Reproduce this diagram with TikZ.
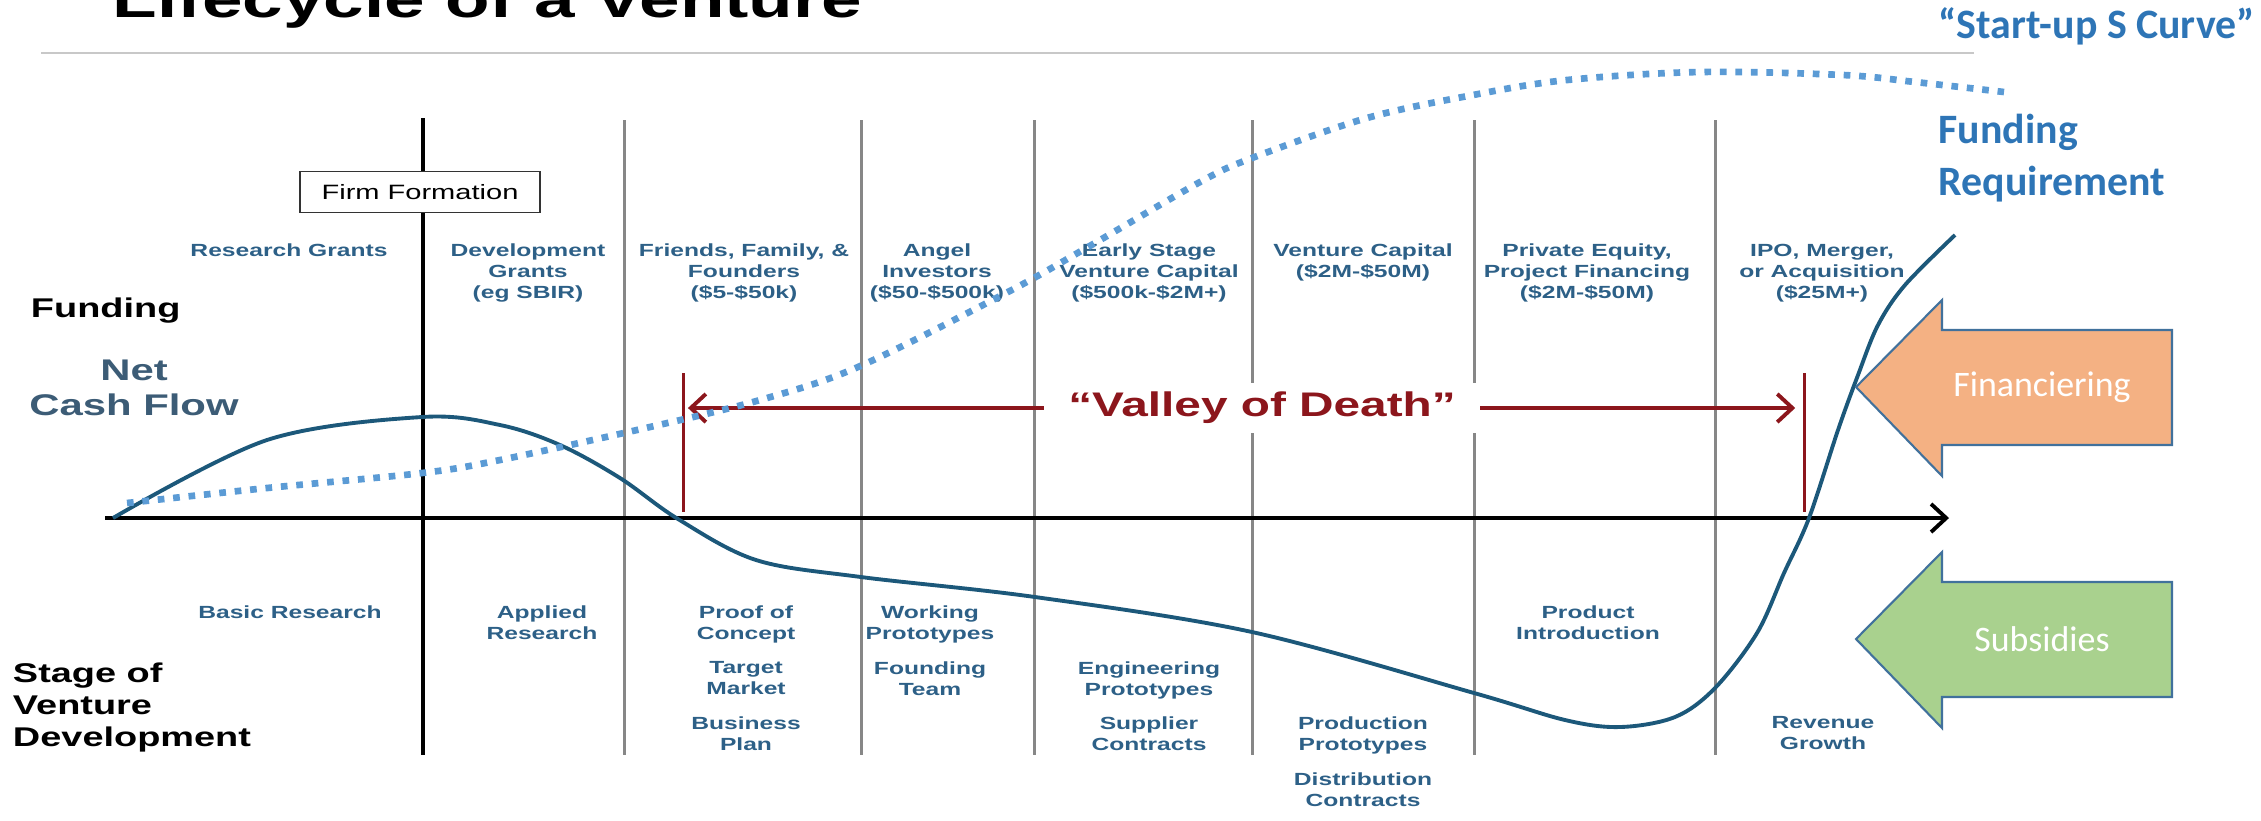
\documentclass[tikz,border=0pt]{standalone}
\usepackage{fontspec}
\setmainfont{Liberation Sans}
\newfontfamily\calibri{Carlito}
\usetikzlibrary{arrows.meta}

\definecolor{labelblue}{RGB}{45,96,135}
\definecolor{cashblue}{RGB}{28,88,122}
\definecolor{netgrey}{RGB}{60,92,118}
\definecolor{valleyred}{RGB}{140,22,28}
\definecolor{gridgrey}{RGB}{135,135,135}
\definecolor{rulegrey}{RGB}{200,200,200}
\definecolor{sblue}{RGB}{91,155,213}
\definecolor{textblue}{RGB}{46,117,182}
\definecolor{finorange}{RGB}{244,177,131}
\definecolor{subgreen}{RGB}{169,209,142}
\definecolor{arrowrim}{RGB}{65,113,156}

\tikzset{
  widetext/.style={xscale=1.4,inner sep=0pt},
  stagelabel/.style={widetext,text=labelblue,font=\bfseries\fontsize{5}{6}\selectfont,align=center,anchor=north},
  sidelabel/.style={widetext,font=\bfseries\fontsize{7.7}{9.1}\selectfont,align=left,anchor=north west},
  divider/.style={gridgrey,line width=.85pt},
  barb/.tip={Straight Barb[length=4.3pt,width=8pt]},
  blockarrow/.style={draw=arrowrim,line width=.6pt,line join=miter},
  overlaytext/.style={font=\calibri\fontsize{10.2}{12}\selectfont,text=white}
}

\begin{document}
\begin{tikzpicture}[x=.01cm,y=-.01cm]
\useasboundingbox (0,0) rectangle (2261,820);
\path (105,518) coordinate (ax0)
      (1949,518) coordinate (ax1)
      (683,408) coordinate (vl)
      (1804,408) coordinate (vr);

% title, rule and stage dividers
\node[widetext,anchor=base west,font=\bfseries\fontsize{14.8}{17}\selectfont] (title) at (112,17) {Lifecycle of a Venture};
\draw[rulegrey,line width=.7pt] (41,53) -- (1974,53);
\foreach \x in {624,861,1034,1252,1474,1715}
  \draw[divider] (\x,120) -- (\x,755);
\draw[line width=.9pt] (423,118) -- (423,755);
\node[widetext,draw=black!80,fill=white,line width=.5pt,minimum width=1.71cm,minimum height=.41cm,font=\fontsize{5.9}{7}\selectfont] (firm) at (420,192) {Firm Formation};

% axis
\draw[line width=1.1pt,-barb] (ax0) -- (ax1);

% valley of death
\draw[valleyred,line width=.85pt] (683,373) -- (683,512) (1804,373) -- (1804,512);
\draw[valleyred,line width=1.1pt,barb-barb,shorten <=1.4pt,shorten >=2.5pt] (vl) -- (vr);
\node[widetext,fill=white,minimum width=3.11cm,minimum height=.5cm,text=valleyred,font=\bfseries\fontsize{9.7}{11}\selectfont] (valley) at (1262,408) {“Valley of Death”};

% side labels
\node[sidelabel] (funding) at (30,297) {Funding};
\node[sidelabel] (stage) at (12,662) {Stage of\\Venture\\Development};
\node[widetext,anchor=north,align=center,text=netgrey,font=\bfseries\fontsize{8.5}{10}\selectfont] (netcash) at (134,359) {Net\\Cash Flow};

% funding sources
\node[stagelabel] (grants) at (289,243) {Research Grants};
\node[stagelabel] (devgrants) at (528,243) {Development\\Grants\\(eg SBIR)};
\node[stagelabel] (friends) at (744,243) {Friends, Family, \&\\Founders\\(\$5-\$50k)};
\node[stagelabel] (angels) at (937,243) {Angel\\Investors\\(\$50-\$500k)};
\node[stagelabel] (earlyvc) at (1149,243) {Early Stage\\Venture Capital\\(\$500k-\$2M+)};
\node[stagelabel] (vc) at (1363,243) {Venture Capital\\(\$2M-\$50M)};
\node[stagelabel] (pe) at (1587,243) {Private Equity,\\Project Financing\\(\$2M-\$50M)};
\node[stagelabel] (ipo) at (1822,243) {IPO, Merger,\\or Acquisition\\(\$25M+)};

% development stages
\node[stagelabel] (basic) at (290,605) {Basic Research};
\node[stagelabel] (applied) at (542,605) {Applied\\Research};
\node[stagelabel] (proof) at (746,605) {Proof of\\Concept};
\node[stagelabel] (target) at (746,661) {Target\\Market};
\node[stagelabel] (plan) at (746,716) {Business\\Plan};
\node[stagelabel] (working) at (930,605) {Working\\Prototypes};
\node[stagelabel] (team) at (930,661) {Founding\\Team};
\node[stagelabel] (engproto) at (1149,661) {Engineering\\Prototypes};
\node[stagelabel] (supplier) at (1149,716) {Supplier\\Contracts};
\node[stagelabel] (prodproto) at (1363,716) {Production\\Prototypes};
\node[stagelabel] (distrib) at (1363,772) {Distribution\\Contracts};
\node[stagelabel] (intro) at (1588,605) {Product\\Introduction};
\node[stagelabel] (revenue) at (1823,716) {Revenue\\Growth};

% net cash flow
\draw[cashblue,line width=1.1pt] plot[smooth,tension=.55] coordinates {(113,518) (267,440) (422,417) (500,425)
  (560,445) (620,478) (678,519) (756,560) (861,577) (1035,597) (1252,632) (1474,693) (1565,720) (1620,727)
  (1675,717) (1715,688) (1757,633) (1784,573) (1809,518) (1838,430) (1858,375) (1878,325) (1905,285) (1955,235)};

% start-up s curve
\draw[sblue,line width=1.9pt,dash pattern=on 1.9pt off 2.5pt] plot[smooth,tension=.55] coordinates {(127,503)
  (267,488) (422,473) (500,460) (650,427) (760,400) (858,367) (1006,293) (1088,247) (1200,182) (1252,158)
  (1367,118) (1473,95) (1567,80) (1700,72) (1843,75) (1915,82) (2004,92)};
\node[anchor=base west,inner sep=0pt,text=textblue,font=\calibri\bfseries\fontsize{11.9}{14.8}\selectfont] (scurve) at (1938,38) {“Start-up S Curve”};
\node[anchor=north west,align=left,inner sep=0pt,text=textblue,font=\calibri\bfseries\fontsize{11.9}{14.8}\selectfont] (fundreq) at (1938,113) {Funding\\Requirement};

% financiering / subsidies
\foreach \y/\col/\txt in {387/finorange/Financiering,639/subgreen/Subsidies}{
  \draw[blockarrow,fill=\col] (1856,\y) -- ++(86,-87) -- ++(0,30) -- ++(230,0) -- ++(0,115)
    -- ++(-230,0) -- ++(0,31) -- cycle;
  \node[overlaytext] (\txt) at (2042,\y) {\txt};
}
\end{tikzpicture}
\end{document}
